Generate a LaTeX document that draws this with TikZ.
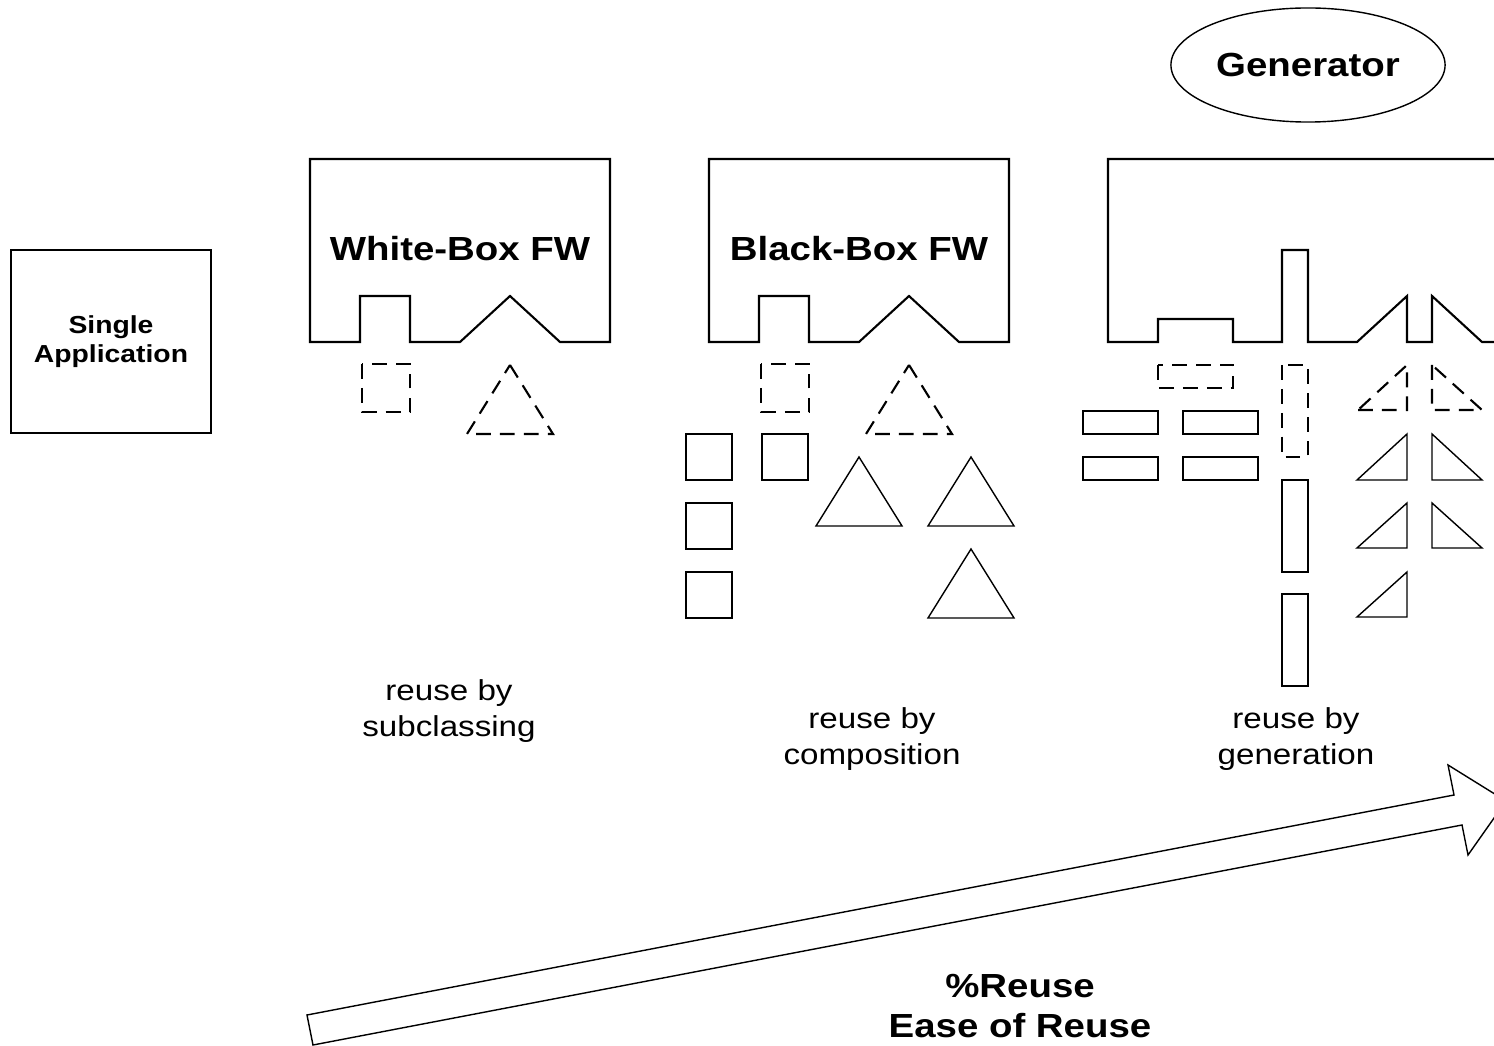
\documentclass[tikz,border=0pt]{standalone}
\usepackage{fontspec}
\setmainfont{Liberation Sans}[FakeStretch=1.15]
\usepackage{tikz}
\usetikzlibrary{shapes.geometric}

\tikzset{
  frame/.style={draw,line width=0.6pt,line join=miter},
  part/.style={draw,line width=0.4pt},
  slot/.style={draw,line width=0.6pt,dash pattern=on 4.2pt off 2.6pt},
  fwlabel/.style={font=\fontsize{9.5}{11}\selectfont\bfseries},
  note/.style={align=center,font=\fontsize{8.2}{10.2}\selectfont}
}

\begin{document}
\begin{tikzpicture}[x=0.01cm,y=-0.01cm,every node/.style={inner sep=0pt}]
\useasboundingbox (0,0) rectangle (1494,1046);
\clip (0,0) rectangle (1494,1046);

% single application
\node[part,minimum width=2cm,minimum height=1.83cm,align=center,
  font=\fontsize{7}{8.4}\selectfont\bfseries] (single) at (111,341.5) {Single\\Application};

% white-box and black-box frameworks
\foreach \fx/\fname/\fid in {0/White-Box FW/white,399/Black-Box FW/black}{
  \begin{scope}[shift={(\fx,0)}]
    \draw[frame] (310,342) -- (310,159) -- (610,159) -- (610,342) -- (560,342) -- (510,296)
      -- (460,342) -- (410,342) -- (410,296) -- (360,296) -- (360,342) -- cycle;
    \node[fwlabel] (\fid) at (460,249) {\fname};
    \draw[slot] (362,364) rectangle (410,412);
    \draw[slot] (510,365) -- (553,434) -- (467,434) -- cycle;
  \end{scope}
}

% parts plugged into the black box
\foreach \px/\py in {686/434,762/434,686/503,686/572}
  \draw[part] (\px,\py) rectangle ++(46,46);
\foreach \tx/\ty in {859/457,971/457,971/549}
  \draw[part] (\tx,\ty) -- ++(43,69) -- ++(-86,0) -- cycle;

% generated framework
\draw[frame] (1520,159) -- (1108,159) -- (1108,342) -- (1158,342) -- (1158,319) -- (1233,319)
  -- (1233,342) -- (1282,342) -- (1282,250) -- (1308,250) -- (1308,342) -- (1357,342)
  -- (1407,296) -- (1407,342) -- (1432,342) -- (1432,296) -- (1482,342) -- (1520,342);
\draw[slot] (1158,365) rectangle (1233,388);
\draw[slot] (1282,365) rectangle (1308,457);
\draw[slot] (1358,410) -- (1407,410) -- (1407,365) -- cycle;
\draw[slot] (1432,365) -- (1432,410) -- (1482,410) -- cycle;
\foreach \gx/\gy in {1083/411,1183/411,1083/457,1183/457}
  \draw[part] (\gx,\gy) rectangle ++(75,23);
\foreach \gy in {480,594}
  \draw[part] (1282,\gy) rectangle ++(26,92);
\foreach \top/\bot in {434/480,503/548,572/617}
  \draw[part] (1357,\bot) -- (1407,\bot) -- (1407,\top) -- cycle;
\foreach \top/\bot in {434/480,503/548}
  \draw[part] (1432,\top) -- (1432,\bot) -- (1482,\bot) -- cycle;

\node[ellipse,part,minimum width=2.74cm,minimum height=1.14cm,fwlabel] (gen) at (1308,65) {Generator};

% captions
\node[note] (sub) at (449,711) {reuse by\\subclassing};
\node[note] (comp) at (872,739) {reuse by\\composition};
\node[note] (genr) at (1296,739) {reuse by\\generation};

% growth arrow
\draw[part,line join=miter] (307,1015) -- (1454,795) -- (1448,765) -- (1506,801)
  -- (1468,855) -- (1462,825) -- (313,1045) -- cycle;
\node[align=center,font=\fontsize{9.5}{11.4}\selectfont\bfseries] (reuse) at (1020,1006) {\%Reuse\\Ease of Reuse};
\end{tikzpicture}
\end{document}
